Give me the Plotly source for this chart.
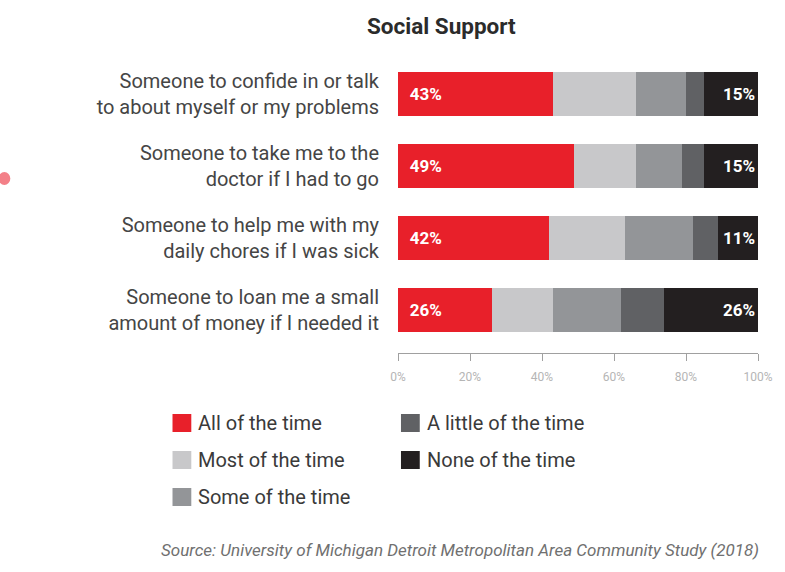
import plotly.graph_objects as go

# Survey items (y categories)
categories = [
    "Someone to confide in or talk<br>to about myself or my problems",
    "Someone to take me to the<br>doctor if I had to go",
    "Someone to help me with my<br>daily chores if I was sick",
    "Someone to loan me a small<br>amount of money if I needed it",
]

# Response shares (%) per item
all_of_time = [43, 49, 42, 26]
most_of_time = [23, 17, 21, 17]
some_of_time = [14, 13, 19, 19]
little_of_time = [5, 6, 7, 12]
none_of_time = [15, 15, 11, 26]

series_names = [
    "All of the time",
    "Most of the time",
    "Some of the time",
    "A little of the time",
    "None of the time",
]
series_values = [all_of_time, most_of_time, some_of_time, little_of_time, none_of_time]
series_colors = ["#E8202A", "#C8C8CA", "#939598", "#606164", "#231F20"]

tick_values = [0, 20, 40, 60, 80, 100]
tick_labels = ["0%", "20%", "40%", "60%", "80%", "100%"]

FONT = "Roboto, Arial"

y_pos = list(range(len(categories)))

fig = go.Figure()
for i, (name, vals, col) in enumerate(zip(series_names, series_values, series_colors)):
    first = i == 0
    last = i == len(series_names) - 1
    show_text = first or last
    fig.add_trace(go.Bar(
        name=name,
        y=y_pos,
        x=vals,
        orientation="h",
        width=0.61,
        marker=dict(color=col, line=dict(width=0)),
        texttemplate=("\u2002%{x}%" if first else "%{x}%") if show_text else None,
        textposition="inside" if show_text else "none",
        insidetextanchor="start" if first else "end",
        textfont=dict(family=FONT, size=17, color="white", weight="bold"),
        showlegend=False,
        hoverinfo="skip",
    ))

fig.update_layout(
    barmode="stack",
    width=785,
    height=572,
    margin=dict(l=398, r=23, t=58, b=219),
    paper_bgcolor="white",
    plot_bgcolor="white",
    font=dict(family=FONT, color="#444444"),
    uniformtext=dict(minsize=8, mode="show"),
)

fig.update_yaxes(
    range=[3.6, -0.5],
    tickmode="array",
    tickvals=y_pos,
    ticktext=categories,
    tickfont=dict(family=FONT, size=20, color="#454545"),
    ticklabelstandoff=18,
    showgrid=False,
    zeroline=False,
    showline=False,
    ticks="",
)

fig.update_xaxes(
    range=[0, 100],
    tickmode="array",
    tickvals=tick_values,
    ticktext=tick_labels,
    tickfont=dict(family=FONT, size=12, color="#B5B5B5"),
    showgrid=False,
    zeroline=False,
    showline=True,
    linecolor="#A0A0A0",
    linewidth=1,
    ticks="outside",
    ticklen=7,
    tickcolor="#A0A0A0",
    ticklabelstandoff=6,
)

# Plot-area geometry, used to place the title, legend and source in pixels
plot_l, plot_r = 398, 785 - 23
plot_t, plot_b = 58, 572 - 219
pw, ph = plot_r - plot_l, plot_b - plot_t


def px_x(x):
    return (x - plot_l) / pw


def px_y(y):
    return (plot_b - y) / ph


def label(text, x, y, xanchor, size, color, **font_extra):
    return dict(text=text, x=px_x(x), y=px_y(y), xref="paper", yref="paper",
                xanchor=xanchor, yanchor="middle", showarrow=False,
                font=dict(family=FONT, size=size, color=color, **font_extra))


annotations = [
    label("<b>Social Support</b>", 442, 26, "center", 22.5, "#2B2B2B"),
    label("<i>Source: University of Michigan Detroit Metropolitan Area Community Study (2018)</i>",
          765, 550, "right", 17, "#707070"),
]

# Small red sliver on the left page edge
shapes = [dict(type="circle", xref="paper", yref="paper",
               x0=px_x(-6), x1=px_x(6), y0=px_y(185), y1=px_y(172),
               fillcolor="#F0606A", line=dict(width=0), opacity=0.8)]

# Legend laid out in two columns beneath the axis
legend_slots = [(170, 423), (170, 460), (170, 497), (401, 423), (401, 460)]
for (lx, ly), name, col in zip(legend_slots, series_names, series_colors):
    shapes.append(dict(type="rect", xref="paper", yref="paper",
                       x0=px_x(lx), x1=px_x(lx + 19), y0=px_y(ly - 9), y1=px_y(ly + 9),
                       fillcolor=col, line=dict(width=0)))
    annotations.append(label(name, lx + 24, ly, "left", 20, "#3A3A3A"))

fig.update_layout(annotations=annotations, shapes=shapes)

fig.write_html("out.html")
